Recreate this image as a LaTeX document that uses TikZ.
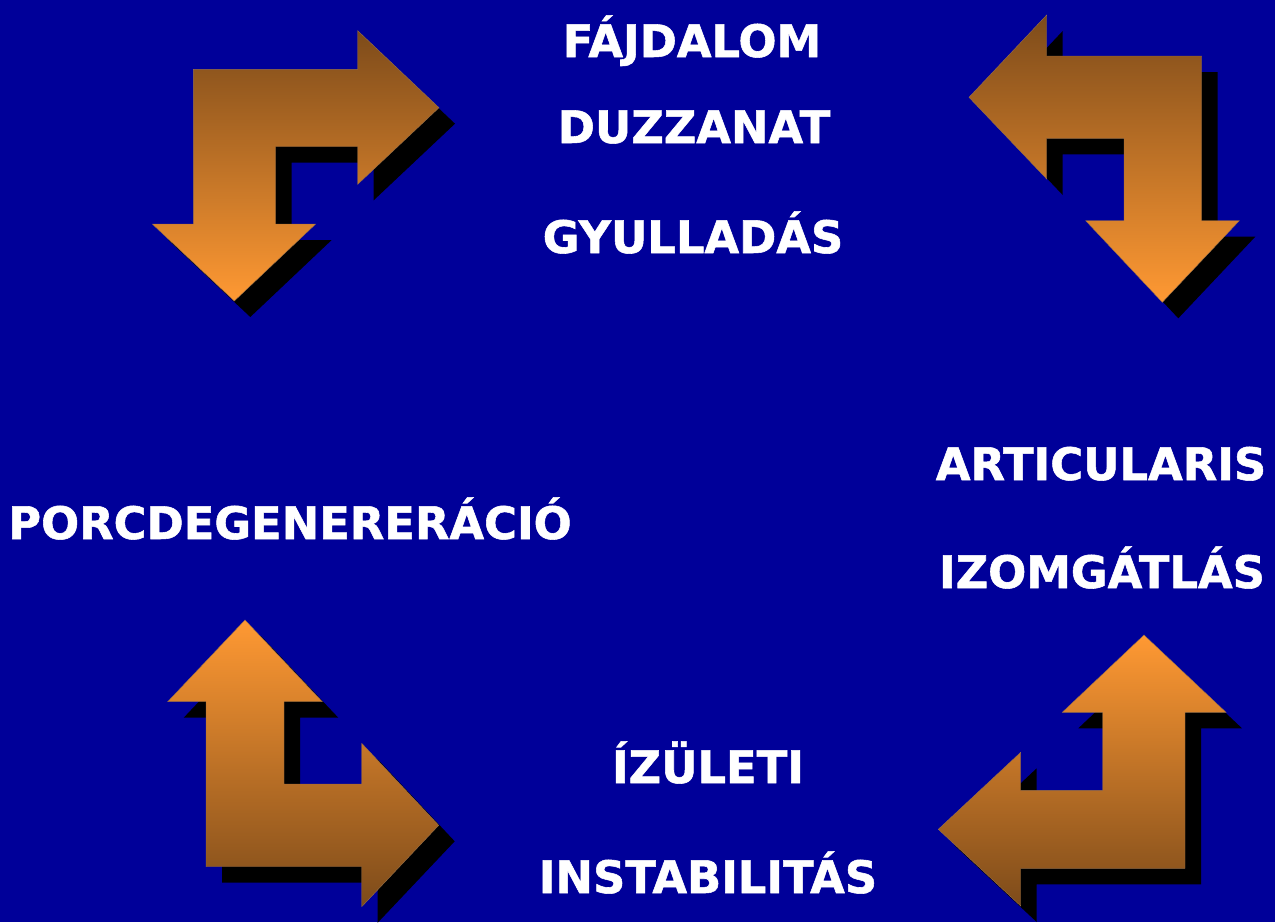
\documentclass[tikz,border=0pt]{standalone}
\usepackage{fontspec}
\setmainfont{DejaVu Sans}
\newfontfamily\lblfont[FakeBold=1.2]{DejaVu Sans Bold}
\definecolor{bgblue}{RGB}{0,0,153}
\definecolor{arrbrown}{RGB}{125,75,26}
\definecolor{arrorange}{RGB}{255,153,51}
\tikzset{
  lbl/.style={text=white, font=\lblfont\fontsize{44.8}{50}\selectfont, anchor=base, inner sep=0pt},
  shad/.style={fill=black},
  arrdown/.style={top color=arrbrown, bottom color=arrorange, draw=arrbrown!80, line width=0.4pt},
  arrup/.style={top color=arrorange, bottom color=arrbrown, draw=arrbrown!80, line width=0.4pt}
}
\begin{document}
\begin{tikzpicture}[x=1pt,y=-1pt]
\fill[bgblue] (0,0) rectangle (1275,922);
\useasboundingbox (0,0) rectangle (1275,922);
% top-left arrow
\def\tlarrow{(193.3,69.3) -- (357.7,69.3) -- (357.7,30.7) -- (439,107.7) -- (357.7,184.3) -- (357.7,146.7) -- (275.7,146.7) -- (275.7,224) -- (315.7,224) -- (234.3,301) -- (152.3,224) -- (193.3,224) -- cycle}
\fill[shad,shift={(16,16)}] \tlarrow;
\path[arrdown] \tlarrow;
% top-right arrow
\def\trarrow{(1201.7,56) -- (1046.7,56) -- (1046.7,15) -- (969,97.3) -- (1046.7,179) -- (1046.7,138.3) -- (1124,138.3) -- (1124,220.7) -- (1085.7,220.7) -- (1162.3,302.3) -- (1239.3,220.7) -- (1201.7,220.7) -- cycle}
\fill[shad,shift={(16,16)}] \trarrow;
\path[arrdown] \trarrow;
% bottom-left arrow
\def\blarrow{(245,620) -- (322.3,701.7) -- (284,701.7) -- (284,784) -- (361.7,784) -- (361.7,743.3) -- (438.7,825.3) -- (361.7,906.7) -- (361.7,866.7) -- (206,866.7) -- (206,701.7) -- (167.7,701.7) -- cycle}
\fill[shad,shift={(16,16)}] \blarrow;
\path[arrup] \blarrow;
% bottom-right arrow
\def\brarrow{(1144,635) -- (1226,712.3) -- (1185,712.3) -- (1185,868.3) -- (1020.7,868.3) -- (1020.7,906) -- (938.3,829.3) -- (1020.7,752.3) -- (1020.7,790.3) -- (1102.7,790.3) -- (1102.7,712.3) -- (1062.3,712.3) -- cycle}
\fill[shad,shift={(16,16)}] \brarrow;
\path[arrup] \brarrow;
% labels
\node[lbl] (fajd) at (692,57) {FÁJDALOM};
\node[lbl] (duzz) at (694,143) {DUZZANAT};
\node[lbl] (gyul) at (693,253) {GYULLADÁS};
\node[lbl] (porc) at (290,539) {PORCDEGENERERÁCIÓ};
\node[lbl] (arti) at (1101,480) {ARTICULARIS};
\node[lbl] (izom) at (1102,588) {IZOMGÁTLÁS};
\node[lbl] (izul) at (708,783) {ÍZÜLETI};
\node[lbl] (inst) at (708,893) {INSTABILITÁS};
\end{tikzpicture}
\end{document}
